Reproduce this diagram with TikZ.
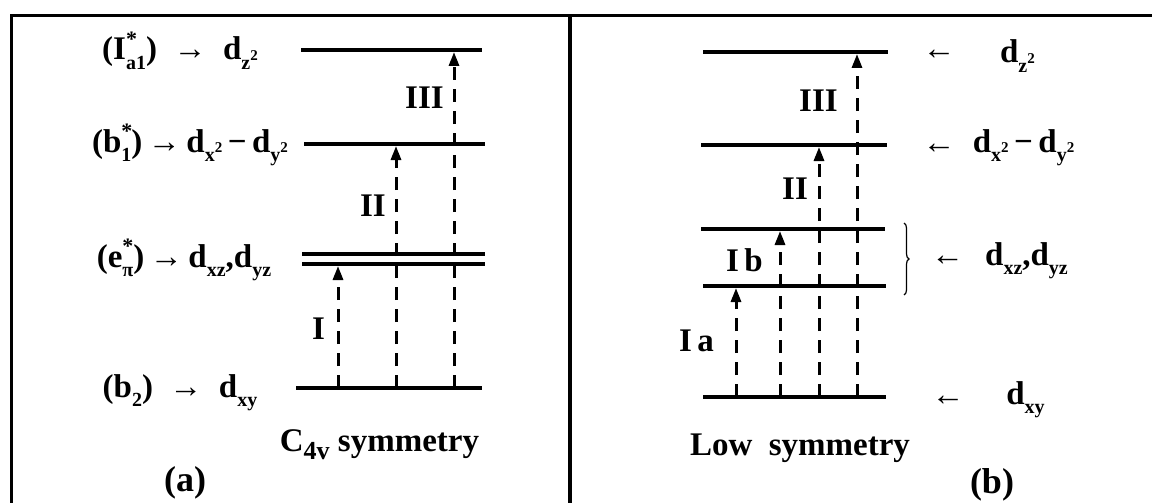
\documentclass[tikz,border=0pt]{standalone}
\usepackage{fontspec}
\setmainfont{Liberation Serif}
\usetikzlibrary{arrows.meta,decorations.pathreplacing}
\newcommand\lsub[1]{\raisebox{-0.28em}{\fontsize{20}{22}\selectfont #1}}
\newcommand\lsup[1]{\raisebox{0.42em}{\fontsize{15}{16}\selectfont #1}}
\newcommand\lss[2]{\rlap{\raisebox{0.42em}{\fontsize{22}{24}\selectfont #1}}\raisebox{-0.3em}{\fontsize{20}{22}\selectfont #2}}
\begin{document}
\begin{tikzpicture}[x=1pt,y=-1pt,
  font=\fontsize{33}{40}\selectfont\bfseries,
  level/.style={line width=4.2pt},
  trans/.style={line width=3pt, dash pattern=on 13pt off 9pt, -{Triangle[length=14pt,width=10pt]}},
  lab/.style={anchor=base, inner sep=0pt},
  frame/.style={line width=3.5pt}]
\useasboundingbox (0,0) rectangle (1152,503);
\draw[frame] (1152,15.5) -- (11.5,15.5) -- (11.5,503);
\draw[frame] (570,15.5) -- (570,503);
% panel a levels
\coordinate (aA1) at (301,50);  \coordinate (aA2) at (482,50);
\coordinate (aB1) at (304,144); \coordinate (aB2) at (485,144);
\coordinate (aE1) at (302,254); \coordinate (aE2) at (485,254);
\coordinate (aF1) at (302,264); \coordinate (aF2) at (485,264);
\coordinate (aD1) at (296,388); \coordinate (aD2) at (482,388);
\draw[level] (aA1) -- (aA2);
\draw[level] (aB1) -- (aB2);
\draw[level,line width=3.5pt] (aE1) -- (aE2);
\draw[level,line width=3.5pt] (aF1) -- (aF2);
\draw[level] (aD1) -- (aD2);
\coordinate (aI0) at (338,388);  \coordinate (aI1) at (338,266);
\coordinate (aII0) at (396,388); \coordinate (aII1) at (396,146);
\coordinate (aIII0) at (454,388);\coordinate (aIII1) at (454,52);
\draw[trans] (aI0) -- (aI1);
\draw[trans] (aII0) -- (aII1);
\draw[trans] (aIII0) -- (aIII1);
\node[lab] (la1) at (180,60) {(I\lss{*}{a1})\enspace→\enspace d\lsub{z\lsup{2}}};
\node[lab] (la2) at (190,152) {(b\lss{*}{1})\,→\,d\lsub{x\lsup{2}}\,−\,d\lsub{y\lsup{2}}};
\node[lab] (la3) at (184,267) {(e\lss{*}{π})\,→\,d\lsub{xz},d\lsub{yz}};
\node[lab] (la4) at (180,397) {(b\lsub{2})\enspace→\enspace d\lsub{xy}};
\node[lab] (ta3) at (424.5,108) {III};
\node[lab] (ta2) at (373,216) {II};
\node[lab] (ta1) at (318.5,339) {I};
\node[lab] (sa) at (379.5,451) {C\raisebox{-0.25em}{\fontsize{26}{28}\selectfont 4v} symmetry};
\node[lab,font=\fontsize{36}{40}\selectfont\bfseries] (pa) at (185,491) {(a)};
% panel b levels
\coordinate (bA1) at (703,52);  \coordinate (bA2) at (888,52);
\coordinate (bB1) at (701,145); \coordinate (bB2) at (887,145);
\coordinate (bE1) at (701,229); \coordinate (bE2) at (885,229);
\coordinate (bF1) at (703,286); \coordinate (bF2) at (886,286);
\coordinate (bD1) at (703,397); \coordinate (bD2) at (886,397);
\draw[level] (bA1) -- (bA2);
\draw[level] (bB1) -- (bB2);
\draw[level] (bE1) -- (bE2);
\draw[level] (bF1) -- (bF2);
\draw[level] (bD1) -- (bD2);
\coordinate (bIa0) at (736,397); \coordinate (bIa1) at (736,288);
\coordinate (bIb0) at (780,397); \coordinate (bIb1) at (780,231);
\coordinate (bII0) at (819,397); \coordinate (bII1) at (819,147);
\coordinate (bIII0) at (857,397);\coordinate (bIII1) at (857,54);
\draw[trans] (bIa0) -- (bIa1);
\draw[trans] (bIb0) -- (bIb1);
\draw[trans] (bII0) -- (bII1);
\draw[trans] (bIII0) -- (bIII1);
\coordinate (brT) at (904,223); \coordinate (brB) at (904,295);
\draw[decorate,decoration={brace,amplitude=5pt},line width=1.2pt] (brT) -- (brB);
\node[lab] (ar1) at (939,60) {←};
\node[lab] (ar2) at (939,153) {←};
\node[lab] (ar3) at (947.5,265) {←};
\node[lab] (ar4) at (948,405) {←};
\node[lab] (lb1) at (1017.5,63) {d\lsub{z\lsup{2}}};
\node[lab] (lb2) at (1023.5,152) {d\lsub{x\lsup{2}}\,−\,d\lsub{y\lsup{2}}};
\node[lab] (lb3) at (1026.5,265) {d\lsub{xz},d\lsub{yz}};
\node[lab] (lb4) at (1025.5,404) {d\lsub{xy}};
\node[lab] (tb3) at (818.5,111) {III};
\node[lab] (tb2) at (795,199) {II};
\node[lab] (tb1) at (744.5,271) {I\,b};
\node[lab] (tb0) at (696.5,351) {I\,a};
\node[lab] (sb) at (800,455) {Low~ symmetry};
\node[lab,font=\fontsize{36}{40}\selectfont\bfseries] (pb) at (992,493) {(b)};
\end{tikzpicture}
\end{document}
